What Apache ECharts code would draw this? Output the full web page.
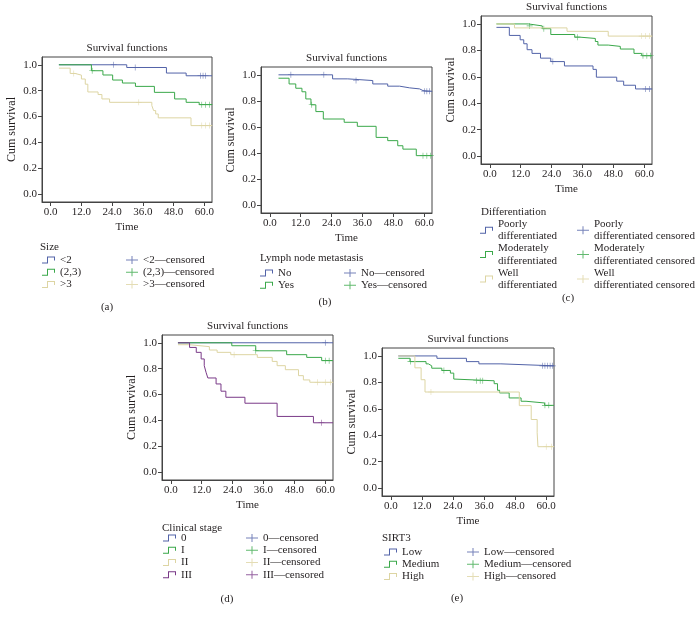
<!DOCTYPE html>
<html>
<head>
<meta charset="utf-8">
<script src="https://cdn.jsdelivr.net/npm/echarts@6/dist/echarts.min.js"></script>
<style>
  html, body { margin: 0; padding: 0; background: #fff; }
  #chart { width: 700px; height: 620px; }
</style>
</head>
<body>
<div id="chart"></div>
<script>
// tick labels shared by every panel
const timeTicks = [0, 12, 24, 36, 48, 60];
const survTicks = [0, 0.2, 0.4, 0.6, 0.8, 1.0];

// (a) Size
const sizeNames = ['<2', '(2,3)', '>3'];
const sizeLt2Time = [3.2, 29.7, 45.2, 52.9, 63];
const sizeLt2Surv = [1, 0.979, 0.936, 0.915, 0.915];
const sizeLt2Cens = [24.6, 33, 58.5, 59.5, 60.5];
const size23Time = [3.2, 15.9, 20.4, 24.2, 28, 33.1, 40.5, 48.4, 52.9, 58, 63];
const size23Surv = [1, 0.954, 0.921, 0.882, 0.859, 0.833, 0.787, 0.736, 0.71, 0.692, 0.692];
const size23Cens = [16.2, 59, 60.5, 62];
const sizeGt3Time = [3.2, 7.6, 9.5, 12, 13.5, 14.5, 18.5, 20, 23, 39.5, 40.2, 41, 42, 54.8, 63];
const sizeGt3Surv = [0.974, 0.933, 0.92, 0.89, 0.85, 0.79, 0.77, 0.736, 0.71, 0.685, 0.646, 0.62, 0.59, 0.53, 0.53];
const sizeGt3Cens = [9, 34.4, 59, 60.5, 62];

// (b) Lymph node metastasis
const lymphNames = ['No', 'Yes'];
const lymphNoTime = [3.4, 24.4, 30.3, 40, 45.8, 50.4, 54.3, 58.2, 59.5, 63];
const lymphNoSurv = [1, 0.969, 0.956, 0.93, 0.913, 0.9, 0.892, 0.879, 0.874, 0.874];
const lymphNoCens = [8.2, 21, 33.5, 60, 61, 62];
const lymphYesTime = [3.4, 7.5, 10.1, 12.5, 14, 16, 17.9, 20.8, 28.9, 34, 41.3, 45.8, 49.7, 51.7, 56.9, 63];
const lymphYesSurv = [0.974, 0.93, 0.897, 0.87, 0.815, 0.77, 0.718, 0.661, 0.636, 0.605, 0.52, 0.495, 0.456, 0.43, 0.38, 0.38];
const lymphYesCens = [16.3, 59.5, 61, 62.5];

// (c) Differentiation
const diffNames = ['Poorly differentiated', 'Moderately differentiated', 'Well differentiated'];
const diffPoorTime = [2.6, 7.6, 11.8, 13.2, 14.5, 16.4, 19.7, 23.7, 29, 40.1, 41.4, 49.3, 52, 56.6, 63];
const diffPoorSurv = [0.974, 0.913, 0.88, 0.85, 0.805, 0.777, 0.741, 0.715, 0.682, 0.656, 0.597, 0.567, 0.536, 0.508, 0.508];
const diffPoorCens = [24.5, 60.5, 62];
const diffModTime = [2.6, 15, 20.4, 23.7, 33, 35, 41, 42, 46, 50.7, 56, 59, 63];
const diffModSurv = [1, 0.985, 0.964, 0.92, 0.9, 0.89, 0.867, 0.84, 0.83, 0.81, 0.777, 0.759, 0.759];
const diffModCens = [15.5, 21, 34, 59.5, 61, 62.5];
const diffWellTime = [2.6, 9.6, 30, 46, 63];
const diffWellSurv = [1, 0.97, 0.944, 0.908, 0.908];
const diffWellCens = [59, 60.5, 62];

// (d) Clinical stage
const stageNames = ['0', 'I', 'II', 'III'];
const stage0Time = [2.8, 63];
const stage0Surv = [1, 1];
const stage0Cens = [60];
const stage1Time = [2.8, 23.7, 33, 45, 52.8, 58.6, 63];
const stage1Surv = [1, 0.977, 0.938, 0.908, 0.887, 0.862, 0.862];
const stage1Cens = [33, 60, 61.5];
const stage2Time = [2.8, 7.3, 15, 18, 23.3, 33.6, 39.4, 41.3, 44.5, 49.6, 51.5, 54, 63];
const stage2Surv = [0.985, 0.97, 0.944, 0.926, 0.908, 0.887, 0.856, 0.823, 0.792, 0.746, 0.713, 0.695, 0.695];
const stage2Cens = [24.6, 57, 60, 62];
const stage3Time = [2.8, 7.3, 9.9, 11.8, 13, 13.7, 14.4, 17.6, 19.5, 21.4, 28.8, 41.3, 55.4, 63];
const stage3Surv = [1, 0.964, 0.926, 0.875, 0.823, 0.772, 0.728, 0.682, 0.626, 0.579, 0.533, 0.431, 0.382, 0.382];
const stage3Cens = [58.5];

// (e) SIRT3
const sirtNames = ['Low', 'Medium', 'High'];
const sirtLowTime = [2.9, 17.8, 29.2, 34, 42.5, 63];
const sirtLowSurv = [1, 0.982, 0.957, 0.94, 0.925, 0.925];
const sirtLowCens = [58.5, 59.5, 60.5, 61.5, 62.5];
const sirtMedTime = [2.9, 7.4, 13.6, 14.5, 15.8, 19.7, 23, 24.3, 25, 39.9, 41.2, 42, 45.7, 50.3, 52.2, 59.4, 63];
const sirtMedSurv = [0.982, 0.957, 0.94, 0.925, 0.907, 0.89, 0.87, 0.825, 0.812, 0.79, 0.74, 0.72, 0.682, 0.657, 0.644, 0.626, 0.626];
const sirtMedCens = [7.6, 20.5, 33, 34.5, 35.5, 59.5, 61];
const sirtHighTime = [2.9, 9.3, 11.7, 13.2, 49.6, 54.2, 56.5, 56.8, 63];
const sirtHighSurv = [1, 0.91, 0.82, 0.727, 0.624, 0.519, 0.419, 0.313, 0.313];
const sirtHighCens = [15.5, 60, 62];

const FONT = '"Liberation Serif", "DejaVu Serif", serif';
const INK = '#231f20';
const BLUE = '#5263a8', GREEN = '#3aa84a', TAN = '#ddd5a3', PURPLE = '#7a3a88';
const STEP_ICON = 'path://M0,7H5V1H13V5H12V2H6V8H0Z';
const PLUS = 'path://M0,4.5H10V5.5H0Z M4.5,0H5.5V10H4.5Z';
const PLUS_LEG = 'path://M0,3.5H12V4.5H0Z M5.5,0H6.5V8H5.5Z';

const panels = [
  {
    tag: '(a)', tagPos: [107, 307], head: 'Size', headPos: [40, 247],
    grid: { left: 42, top: 57, width: 170, height: 145 },
    lineLeg: [42, 254], censLeg: [126, 254], sep: '—',
    curves: [
      { name: sizeNames[0], color: BLUE, t: sizeLt2Time, s: sizeLt2Surv, c: sizeLt2Cens },
      { name: sizeNames[1], color: GREEN, t: size23Time, s: size23Surv, c: size23Cens },
      { name: sizeNames[2], color: TAN, t: sizeGt3Time, s: sizeGt3Surv, c: sizeGt3Cens }
    ]
  },
  {
    tag: '(b)', tagPos: [325, 302], head: 'Lymph node metastasis', headPos: [260, 258],
    grid: { left: 261, top: 67, width: 171, height: 146 },
    lineLeg: [260, 267], censLeg: [344, 267], sep: '—',
    curves: [
      { name: lymphNames[0], color: BLUE, t: lymphNoTime, s: lymphNoSurv, c: lymphNoCens },
      { name: lymphNames[1], color: GREEN, t: lymphYesTime, s: lymphYesSurv, c: lymphYesCens }
    ]
  },
  {
    tag: '(c)', tagPos: [568, 298], head: 'Differentiation', headPos: [481, 212],
    grid: { left: 481, top: 16, width: 171, height: 148 },
    lineLeg: [480, 218], censLeg: [577, 218], sep: ' ', wrap: true,
    curves: [
      { name: diffNames[0], color: BLUE, t: diffPoorTime, s: diffPoorSurv, c: diffPoorCens },
      { name: diffNames[1], color: GREEN, t: diffModTime, s: diffModSurv, c: diffModCens },
      { name: diffNames[2], color: TAN, t: diffWellTime, s: diffWellSurv, c: diffWellCens }
    ]
  },
  {
    tag: '(d)', tagPos: [227, 599], head: 'Clinical stage', headPos: [162, 528],
    grid: { left: 162, top: 335, width: 171, height: 145 },
    lineLeg: [163, 532], censLeg: [246, 532], sep: '—',
    curves: [
      { name: stageNames[0], color: BLUE, t: stage0Time, s: stage0Surv, c: stage0Cens },
      { name: stageNames[1], color: GREEN, t: stage1Time, s: stage1Surv, c: stage1Cens },
      { name: stageNames[2], color: TAN, t: stage2Time, s: stage2Surv, c: stage2Cens },
      { name: stageNames[3], color: PURPLE, t: stage3Time, s: stage3Surv, c: stage3Cens }
    ]
  },
  {
    tag: '(e)', tagPos: [457, 598], head: 'SIRT3', headPos: [382, 538],
    grid: { left: 382, top: 348, width: 172, height: 148 },
    lineLeg: [384, 546], censLeg: [467, 546], sep: '—',
    curves: [
      { name: sirtNames[0], color: BLUE, t: sirtLowTime, s: sirtLowSurv, c: sirtLowCens },
      { name: sirtNames[1], color: GREEN, t: sirtMedTime, s: sirtMedSurv, c: sirtMedCens },
      { name: sirtNames[2], color: TAN, t: sirtHighTime, s: sirtHighSurv, c: sirtHighCens }
    ]
  }
];

// value of the step curve at time x
function stepAt(t, s, x) {
  let v = s[0];
  for (let i = 0; i < t.length; i++) if (t[i] <= x) v = s[i];
  return v;
}

function txt(x, y, text, size, align) {
  return {
    type: 'text', x: x, y: y, silent: true,
    style: { text: text, font: size + 'px ' + FONT, fill: INK,
      textAlign: align || 'left', textVerticalAlign: 'middle' }
  };
}

const grids = [], xAxes = [], yAxes = [], series = [], legends = [], graphics = [];

panels.forEach((p, i) => {
  grids.push(Object.assign({ show: true, borderColor: '#444', borderWidth: 1 }, p.grid));

  xAxes.push({
    gridIndex: i, type: 'value', min: -3.4, max: 63,
    axisLine: { show: true, onZero: false, lineStyle: { color: '#444', width: 1 } },
    axisTick: { show: true, length: 4, customValues: timeTicks, lineStyle: { color: '#444' } },
    axisLabel: { customValues: timeTicks, formatter: v => v.toFixed(1), margin: 5,
      fontFamily: FONT, fontSize: 11, color: INK },
    splitLine: { show: false },
    name: 'Time', nameLocation: 'middle', nameGap: 20,
    nameTextStyle: { fontFamily: FONT, fontSize: 11, color: INK }
  });

  yAxes.push({
    gridIndex: i, type: 'value', min: -0.06, max: 1.06,
    axisLine: { show: true, onZero: false, lineStyle: { color: '#444', width: 1 } },
    axisTick: { show: true, length: 4, customValues: survTicks, lineStyle: { color: '#444' } },
    axisLabel: { customValues: survTicks, formatter: v => v.toFixed(1), margin: 5,
      fontFamily: FONT, fontSize: 11, color: INK },
    splitLine: { show: false },
    name: 'Cum survival', nameLocation: 'middle', nameGap: 24,
    nameTextStyle: { fontFamily: FONT, fontSize: 12, color: INK }
  });

  const g = p.grid;
  graphics.push(txt(g.left + g.width / 2, g.top - 9, 'Survival functions', 11, 'center'));
  graphics.push(txt(p.headPos[0], p.headPos[1], p.head, 11));
  graphics.push(txt(p.tagPos[0], p.tagPos[1], p.tag, 11, 'center'));

  const lineNames = [], censNames = [];
  p.curves.forEach(c => {
    const cname = c.name + (p.sep === '—' ? '—censored' : ' censored');
    lineNames.push({ name: c.name, icon: STEP_ICON });
    censNames.push({ name: cname, icon: PLUS_LEG });
    series.push({
      type: 'line', name: c.name, xAxisIndex: i, yAxisIndex: i,
      step: 'end', showSymbol: false, symbol: 'none', silent: true, animation: false,
      color: c.color, itemStyle: { color: c.color },
      lineStyle: { color: c.color, width: 1 },
      data: c.t.map((t, k) => [t, c.s[k]])
    });
    series.push({
      type: 'scatter', name: cname, xAxisIndex: i, yAxisIndex: i,
      symbol: PLUS, symbolSize: 6, silent: true, animation: false,
      color: c.color, itemStyle: { color: c.color },
      data: c.c.map(t => [t, stepAt(c.t, c.s, t)])
    });
  });

  const legBase = {
    orient: 'vertical', padding: 0, itemGap: 0, selectedMode: false,
    itemStyle: { borderWidth: 0 },
    textStyle: { fontFamily: FONT, fontSize: 11, color: INK, lineHeight: 12.2 },
    formatter: p.wrap ? (n => n.replace(' ', '\n')) : (n => n)
  };
  legends.push(Object.assign({}, legBase, {
    left: p.lineLeg[0], top: p.lineLeg[1], itemWidth: 13, itemHeight: 7, data: lineNames
  }));
  legends.push(Object.assign({}, legBase, {
    left: p.censLeg[0], top: p.censLeg[1], itemWidth: 12, itemHeight: 8, data: censNames
  }));
});

const chart = echarts.init(document.getElementById('chart'), null, { renderer: 'canvas' });
chart.setOption({
  backgroundColor: '#fff',
  animation: false,
  grid: grids,
  xAxis: xAxes,
  yAxis: yAxes,
  legend: legends,
  graphic: graphics,
  series: series
});
</script>
</body>
</html>
